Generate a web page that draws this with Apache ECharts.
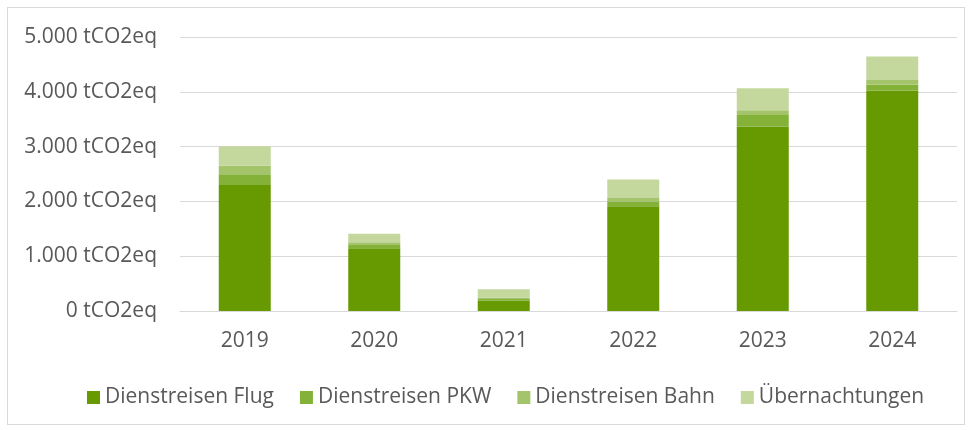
<!DOCTYPE html>
<html>
<head>
    <meta charset="utf-8">
    <title>Dienstreisen Emissionen</title>
    <script src="https://cdn.jsdelivr.net/npm/echarts@6/dist/echarts.min.js"></script>
    <style>
        html, body { margin: 0; padding: 0; background: #fff; }
        #frame {
            position: absolute;
            left: 7px; top: 7px;
            width: 958px; height: 418px;
            border: 1px solid #d9d9d9;
            box-sizing: border-box;
        }
        #chartContainer {
            position: absolute;
            left: 0; top: 0;
            width: 973px;
            height: 430px;
        }
    </style>
</head>
<body>
    <div id="frame"></div>
    <div id="chartContainer"></div>

    <script>
        // Daten
        const years = ['2019', '2020', '2021', '2022', '2023', '2024'];
        const flug = [2300, 1145, 187, 1910, 3360, 4020];
        const pkw = [180, 60, 30, 90, 215, 110];
        const bahn = [170, 48, 30, 60, 90, 85];
        const uebernachtungen = [355, 155, 150, 340, 400, 430];

        const seriesNames = ['Dienstreisen Flug', 'Dienstreisen PKW', 'Dienstreisen Bahn', 'Übernachtungen'];
        const seriesColors = ['#669a00', '#84b239', '#a4c46c', '#c4d89e'];
        const seriesValues = [flug, pkw, bahn, uebernachtungen];

        const fontFamily = '"Open Sans", "Noto Sans", sans-serif';

        const chart = echarts.init(document.getElementById('chartContainer'));

        // Zahlen mit Punkt als Tausendertrennzeichen
        const fmt = v => String(v).replace(/\B(?=(\d{3})+(?!\d))/g, '.') + ' tCO2eq';

        const option = {
            animation: false,
            grid: { left: 180, right: 16, top: 37, bottom: 119 },
            legend: {
                bottom: 17,
                left: 82,
                itemWidth: 13,
                itemHeight: 13,
                itemGap: 26,
                icon: 'rect',
                textStyle: { fontFamily: fontFamily, fontSize: 21, color: '#595959' },
                data: seriesNames
            },
            xAxis: {
                type: 'category',
                data: years,
                axisLine: { show: true, lineStyle: { color: '#d9d9d9', width: 1 } },
                axisTick: { show: false },
                axisLabel: { fontFamily: fontFamily, fontSize: 21, color: '#595959', margin: 20 }
            },
            yAxis: {
                type: 'value',
                min: 0,
                max: 5000,
                interval: 1000,
                axisLine: { show: false },
                axisTick: { show: false },
                axisLabel: { fontFamily: fontFamily, fontSize: 21, color: '#595959', margin: 23, formatter: fmt },
                splitLine: { lineStyle: { color: '#d9d9d9', width: 1 } }
            },
            series: seriesNames.map((name, i) => ({
                name: name,
                type: 'bar',
                stack: 'total',
                barWidth: 52,
                data: seriesValues[i],
                itemStyle: { color: seriesColors[i] }
            }))
        };

        chart.setOption(option);
        window.addEventListener('resize', () => chart.resize());
    </script>
</body>
</html>
